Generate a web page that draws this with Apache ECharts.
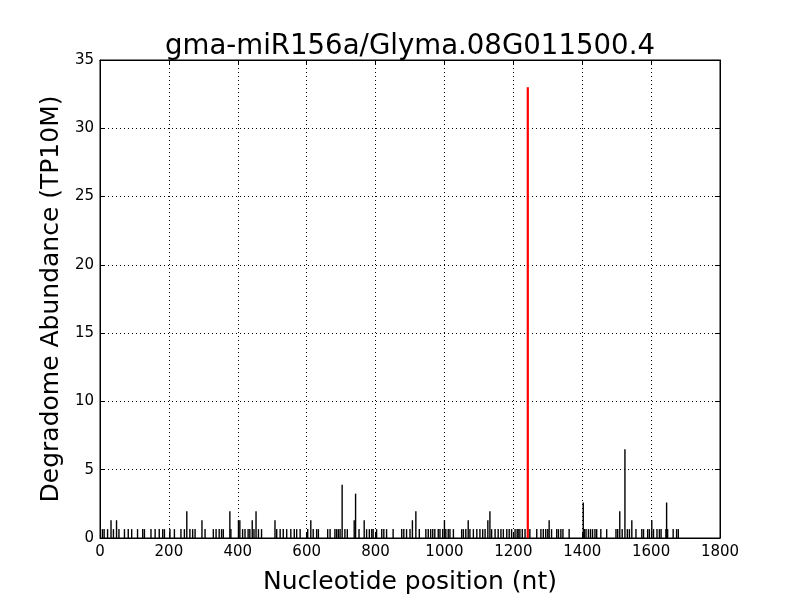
<!DOCTYPE html>
<html>
<head>
<meta charset="utf-8">
<script src="https://cdn.jsdelivr.net/npm/echarts@6/dist/echarts.min.js"></script>
<style>html,body{margin:0;padding:0;background:#fff}#c{width:800px;height:600px}</style>
</head>
<body>
<div id="c"></div>
<script>
const titleText = "gma-miR156a/Glyma.08G011500.4";
const xLabel = "Nucleotide position (nt)";
const yLabel = "Degradome Abundance (TP10M)";
const xTicks = [0, 200, 400, 600, 800, 1000, 1200, 1400, 1600, 1800];
const yTicks = [0, 5, 10, 15, 20, 25, 30, 35];

// black bars: positions (nt) and abundance (TP10M)
const positions = [7,12,22,32,39,48,55,71,82,92,109,124,129,148,160,172,182,187,203,216,235,245,252,261,269,276,296,
  305,329,337,346,353,358,377,380,402,406,414,421,430,435,442,447,453,460,469,508,513,523,532,542,554,564,571,581,
  603,612,619,629,634,661,668,682,687,692,697,703,711,718,738,742,752,767,774,782,789,793,803,818,824,832,851,876,882,890,900,907,
  917,927,946,953,960,966,972,982,987,995,1000,1004,1011,1016,1026,1050,1055,1062,1069,1074,1084,1094,1103,1111,1118,1126,1132,1137,1147,1156,1164,1171,1181,1188,1195,1205,1211,
  1214,1219,1226,1234,1248,1268,1280,1287,1294,1300,1304,1311,1326,1331,1338,1344,1362,1403,1406,1411,1418,1424,1430,1437,1442,1454,1471,1498,1503,1509,1516,
  1524,1531,1537,1544,1556,1573,1578,1590,1595,1602,1607,1617,1624,1629,1643,1645,1648,1664,1674,1679];
const values = [0.65,0.65,0.65,1.3,0.65,1.3,0.65,0.65,0.65,0.65,0.65,0.65,0.65,0.65,0.65,0.65,0.65,0.65,0.65,0.65,0.65,0.65,1.95,0.65,0.65,0.65,1.3,
  0.65,0.65,0.65,0.65,0.65,0.65,1.95,0.65,1.3,1.3,0.65,0.65,0.65,0.65,1.3,0.65,1.95,0.65,0.65,1.3,0.65,0.65,0.65,0.65,0.65,0.65,0.65,0.65,
  0.65,1.3,0.65,0.65,0.65,0.65,0.65,0.65,0.65,0.65,0.65,3.9,0.65,0.65,1.3,3.25,0.65,1.3,0.65,0.65,0.65,0.65,0.65,0.65,0.65,0.65,0.65,0.65,0.65,0.65,0.65,1.3,
  1.95,0.65,0.65,0.65,0.65,0.65,0.65,0.65,0.65,0.65,1.3,0.65,0.65,0.65,0.65,0.65,0.65,0.65,1.3,0.65,0.65,0.65,0.65,0.65,0.65,1.3,1.95,0.65,0.65,0.65,0.65,0.65,0.65,0.65,0.65,0.65,0.65,
  0.65,0.65,0.65,0.65,0.65,0.65,0.65,0.65,0.65,0.65,1.3,0.65,0.65,0.65,0.65,0.65,0.65,2.6,0.65,0.65,0.65,0.65,0.65,0.65,0.65,0.65,0.65,0.65,0.65,1.95,0.65,
  6.5,0.65,0.65,1.3,0.65,0.65,0.65,0.65,0.65,1.3,0.65,0.65,0.65,0.65,0.65,2.6,0.65,0.65,0.65,0.65];

// red bar: the miRNA cleavage site
const sitePositions = [1242];
const siteValues = [33];

const chart = echarts.init(document.getElementById('c'), null, {renderer: 'canvas'});
const font = 'DejaVu Sans';
const gridLine = {show: true, lineStyle: {color: '#000', type: [1, 3], width: 1}};
const baseX = {
  type: 'value', min: 0, max: 1800, interval: 200,
  axisLine: {show: true, onZero: false, lineStyle: {color: '#000', width: 1}},
  axisTick: {show: true, inside: true, length: 5, lineStyle: {color: '#000'}}
};
const baseY = {
  type: 'value', min: 0, max: 35, interval: 5,
  axisLine: {show: true, onZero: false, lineStyle: {color: '#000', width: 1}},
  axisTick: {show: true, inside: true, length: 5, lineStyle: {color: '#000'}}
};
chart.setOption({
  animation: false,
  backgroundColor: '#fff',
  title: {text: titleText, left: 405, top: 28, textAlign: 'center',
    textStyle: {fontFamily: font, fontSize: 27.6, fontWeight: 'normal', color: '#000'}},
  grid: {left: 100, right: 80, top: 60, bottom: 60, show: true, borderColor: '#000', borderWidth: 1},
  xAxis: [
    Object.assign({}, baseX, {position: 'bottom',
      name: xLabel, nameLocation: 'middle', nameGap: 32,
      nameTextStyle: {fontFamily: font, fontSize: 25, color: '#000'},
      axisLabel: {fontFamily: font, fontSize: 15, color: '#000', margin: 7,
        formatter: v => String(v)},
      splitLine: gridLine}),
    Object.assign({}, baseX, {position: 'top', axisLabel: {show: false}, splitLine: {show: false}})
  ],
  yAxis: [
    Object.assign({}, baseY, {position: 'left',
      name: yLabel, nameLocation: 'middle', nameGap: 36,
      nameTextStyle: {fontFamily: font, fontSize: 25, color: '#000'},
      axisLabel: {fontFamily: font, fontSize: 15, color: '#000', margin: 6,
        formatter: v => String(v)},
      splitLine: gridLine}),
    Object.assign({}, baseY, {position: 'right', axisLabel: {show: false}, splitLine: {show: false}})
  ],
  series: [
    {type: 'bar', xAxisIndex: 0, yAxisIndex: 0, barWidth: 1.4,
      itemStyle: {color: '#000'},
      data: positions.map((p, i) => [p, values[i]])},
    {type: 'bar', xAxisIndex: 1, yAxisIndex: 0, barWidth: 2.2,
      itemStyle: {color: '#ff0000'},
      data: sitePositions.map((p, i) => [p, siteValues[i]])}
  ]
});
</script>
</body>
</html>
